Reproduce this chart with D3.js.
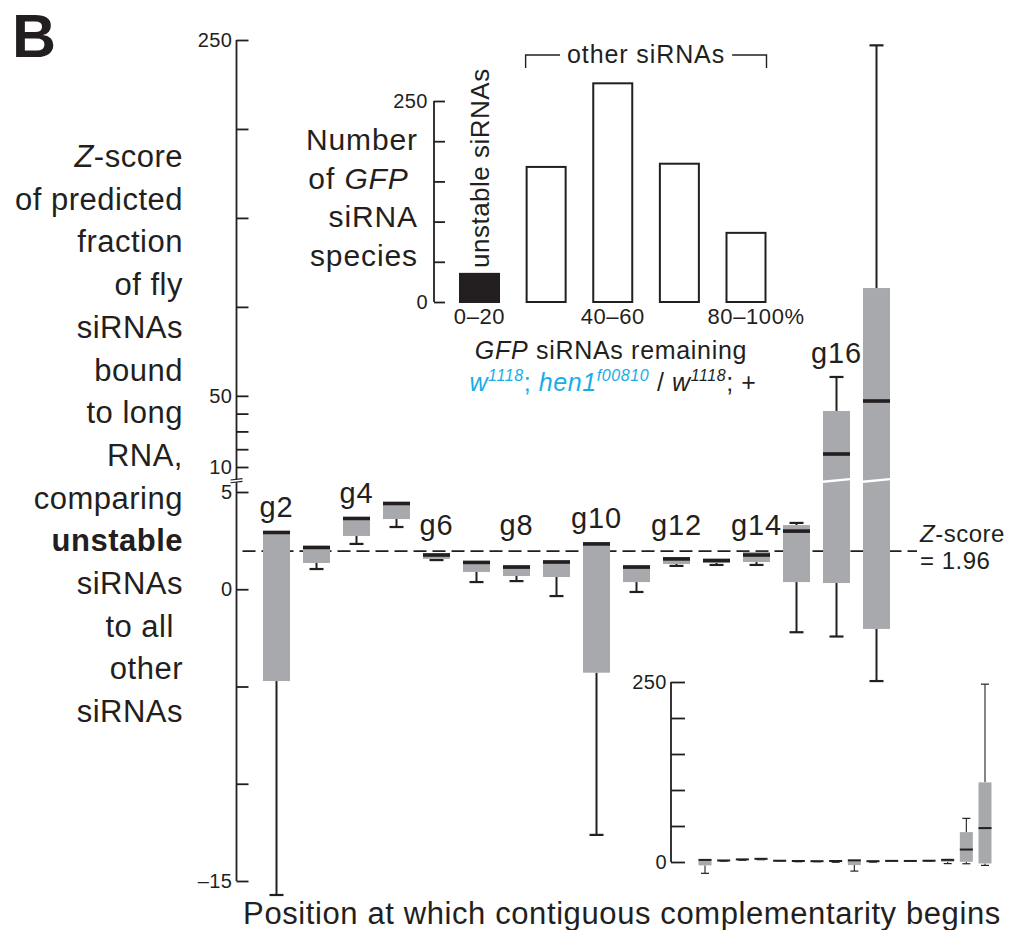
<!DOCTYPE html>
<html>
<head>
<meta charset="utf-8">
<script src="https://cdn.jsdelivr.net/npm/d3@7"></script>
<style>
  body { margin: 0; background: #fff; }
  svg { display: block; font-family: "Liberation Sans", Arial, Helvetica, sans-serif; }
  text { fill: #231f20; }
</style>
</head>
<body>
<svg id="fig" width="1011" height="930"></svg>
<script>
// Guide-strand position at which contiguous complementarity begins
const positions = ["g2","g3","g4","g5","g6","g7","g8","g9","g10","g11","g12","g13","g14","g15","g16","g17"];
const labelledPositions = ["g2","g4","g6","g8","g10","g12","g14","g16"];

// Z-score distributions (box-and-whisker statistics) per position
const upperWhisker  = [2.99, 2.22, 3.71, 4.49, 1.86, 1.45, 1.25, 1.50, 2.43, 1.25, 1.66, 1.56, 1.92, 3.41, 60.6, 247];
const upperQuartile = [2.99, 2.22, 3.71, 4.49, 1.86, 1.45, 1.25, 1.50, 2.43, 1.25, 1.66, 1.56, 1.92, 3.30, 41.5, 110.6];
const medians       = [2.92, 2.15, 3.64, 4.41, 1.76, 1.38, 1.14, 1.40, 2.33, 1.14, 1.56, 1.48, 1.76, 2.99, 17.3, 47.1];
const lowerQuartile = [-4.72, 1.35, 2.74, 3.61, 1.56, 0.89, 0.68, 0.63, -4.29, 0.37, 1.30, 1.35, 1.40, 0.37, 0.32, -2.04];
const lowerWhisker  = [-15.72, 1.04, 2.33, 3.20, 1.50, 0.37, 0.42, -0.35, -12.63, -0.14, 1.20, 1.25, 1.25, -2.21, -2.43, -4.72];
const zThreshold = 1.96;

// Broken y axis: lower segment and upper segment
const lowerTicks = [-15, -10, -5, 0, 5];
const lowerTickLabels = ["–15", "", "", "0", "5"];
const upperTicks = [10, 20, 30, 40, 50, 100, 150, 200, 250];
const upperTickLabels = ["10", "", "", "", "50", "", "", "", "250"];

// Full-range view (bottom right)
const fullTicks = [0, 50, 100, 150, 200, 250];
const fullTickLabels = ["0", "", "", "", "", "250"];

// Histogram of GFP siRNA species by fraction remaining
const bins = ["0–20", "20–40", "40–60", "60–80", "80–100"];
const binLabels = ["0–20", "", "40–60", "", "80–100"];
const speciesCounts = [35, 168, 272, 172, 86];
const countTicks = [0, 50, 100, 150, 200, 250];
const countTickLabels = ["0", "", "", "", "", "250"];

const yTitleLines = ["Z-score", "of predicted", "fraction", "of fly", "siRNAs", "bound", "to long",
                     "RNA,", "comparing", "unstable", "siRNAs", "to all ", "other", "siRNAs"];
const histTitleLines = ["Number", "of GFP ", "siRNA", "species"];

const ink = "#231f20", grey = "#a7a9ac", cyan = "#17aee8";
const svg = d3.select("#fig");

// ---------- panel letter ----------
svg.append("text").attr("x", 12).attr("y", 57)
  .attr("font-size", 61).attr("font-weight", "bold").text("B");

// ---------- main box plot ----------
const axisX = 236.5;
const yLow = d3.scaleLinear().domain([-15, 5]).range([881, 492]);
const yHigh = d3.scaleLinear().domain([10, 250]).range([467, 40]);
const breakY = 480;
const yMain = v => (v > 7.5 ? yHigh(v) : yLow(v));
const x = d3.scalePoint().domain(positions).range([276.5, 876.5]);
const boxW = 27;

function styleAxis(g, size) {
  g.select(".domain").remove();
  g.selectAll(".tick line").attr("stroke", ink).attr("stroke-width", 1.8);
  g.selectAll(".tick text").attr("font-size", size).attr("letter-spacing", 0.5)
    .attr("fill", ink).attr("font-family", null);
}

const axisLowG = svg.append("g").attr("transform", `translate(${axisX},0)`)
  .call(d3.axisLeft(yLow).tickValues(lowerTicks).tickSize(-12).tickPadding(4)
    .tickFormat((d, i) => lowerTickLabels[i]));
styleAxis(axisLowG, 20);
const axisHighG = svg.append("g").attr("transform", `translate(${axisX},0)`)
  .call(d3.axisLeft(yHigh).tickValues(upperTicks).tickSize(-12).tickPadding(4)
    .tickFormat((d, i) => upperTickLabels[i]));
styleAxis(axisHighG, 20);

svg.append("line").attr("x1", axisX).attr("x2", axisX)
  .attr("y1", yHigh(250)).attr("y2", yLow(-15))
  .attr("stroke", ink).attr("stroke-width", 1.8);

// axis break marks
svg.append("path")
  .attr("d", `M${axisX - 6},${breakY + 0.2} L${axisX + 6},${breakY - 1.2} L${axisX + 6},${breakY + 1.6} L${axisX - 6},${breakY + 3} Z`)
  .attr("fill", "#fff");
[0, 2.8].forEach(o => {
  svg.append("line")
    .attr("x1", axisX - 6).attr("y1", breakY + o)
    .attr("x2", axisX + 6).attr("y2", breakY - 1.4 + o)
    .attr("stroke", ink).attr("stroke-width", 1.1);
});

// significance threshold
svg.append("line")
  .attr("x1", axisX + 6).attr("x2", 917)
  .attr("y1", yLow(zThreshold)).attr("y2", yLow(zThreshold))
  .attr("stroke", ink).attr("stroke-width", 1.8).attr("stroke-dasharray", "13,6");

const zLab = svg.append("text").attr("x", 920).attr("y", yLow(zThreshold) - 9)
  .attr("font-size", 24).attr("letter-spacing", 0.5);
zLab.append("tspan").attr("font-style", "italic").text("Z");
zLab.append("tspan").text("-score");
svg.append("text").attr("x", 920).attr("y", yLow(zThreshold) + 18)
  .attr("font-size", 24).attr("letter-spacing", 0.5).text("= " + zThreshold);

const boxes = svg.append("g").selectAll("g").data(positions).join("g");
boxes.each(function (p, i) {
  const g = d3.select(this), cx = x(p);
  if (lowerWhisker[i] < lowerQuartile[i]) {
    g.append("line").attr("x1", cx).attr("x2", cx)
      .attr("y1", yMain(lowerQuartile[i])).attr("y2", yMain(lowerWhisker[i]))
      .attr("stroke", ink).attr("stroke-width", 2);
    g.append("line").attr("x1", cx - 7).attr("x2", cx + 7)
      .attr("y1", yMain(lowerWhisker[i])).attr("y2", yMain(lowerWhisker[i]))
      .attr("stroke", ink).attr("stroke-width", 2.2);
  }
  if (upperWhisker[i] > upperQuartile[i]) {
    g.append("line").attr("x1", cx).attr("x2", cx)
      .attr("y1", yMain(upperQuartile[i])).attr("y2", yMain(upperWhisker[i]))
      .attr("stroke", ink).attr("stroke-width", 2);
    g.append("line").attr("x1", cx - 7).attr("x2", cx + 7)
      .attr("y1", yMain(upperWhisker[i])).attr("y2", yMain(upperWhisker[i]))
      .attr("stroke", ink).attr("stroke-width", 2.2);
  }
  g.append("rect").attr("x", cx - boxW / 2).attr("width", boxW)
    .attr("y", yMain(upperQuartile[i]))
    .attr("height", yMain(lowerQuartile[i]) - yMain(upperQuartile[i]))
    .attr("fill", grey);
  g.append("rect").attr("x", cx - boxW / 2).attr("width", boxW)
    .attr("y", yMain(medians[i]) - 1.8).attr("height", 3.6).attr("fill", ink);
  if (lowerQuartile[i] < 5 && upperQuartile[i] > 10) {
    g.append("line")
      .attr("x1", cx - boxW / 2).attr("y1", breakY + 1.8)
      .attr("x2", cx + boxW / 2).attr("y2", breakY - 0.9)
      .attr("stroke", "#fff").attr("stroke-width", 2.4);
  }
});

// position labels
svg.append("g").selectAll("text").data(labelledPositions).join("text")
  .attr("x", d => x(d))
  .attr("y", d => Math.min(yMain(upperWhisker[positions.indexOf(d)]) - 14, 535))
  .attr("text-anchor", "middle").attr("font-size", 29).attr("letter-spacing", 0.8)
  .text(d => d);

// y-axis title
const yt = svg.append("g").selectAll("text").data(yTitleLines).join("text")
  .attr("x", 183).attr("y", (d, i) => 167 + i * 42.7)
  .attr("text-anchor", "end").attr("font-size", 31).attr("letter-spacing", 0.5)
  .style("white-space", "pre")
  .attr("font-weight", d => (d === "unstable" ? "bold" : null));
yt.each(function (d) {
  const t = d3.select(this);
  if (d.startsWith("Z-")) {
    t.append("tspan").attr("font-style", "italic").text("Z");
    t.append("tspan").text(d.slice(1));
  } else {
    t.text(d);
  }
});

// x-axis title
svg.append("text").attr("x", 622).attr("y", 924).attr("text-anchor", "middle")
  .attr("font-size", 31).attr("letter-spacing", 0.6)
  .text("Position at which contiguous complementarity begins");

// ---------- histogram inset ----------
const hx = d3.scalePoint().domain(bins).range([479.5, 746]);
const hy = d3.scaleLinear().domain([0, 250]).range([302, 101]);
const barW = 39;
const histAxisX = 434;

const hAxis = svg.append("g").attr("transform", `translate(${histAxisX},0)`)
  .call(d3.axisLeft(hy).tickValues(countTicks).tickSize(-11).tickPadding(6)
    .tickFormat((d, i) => countTickLabels[i]));
styleAxis(hAxis, 20);
svg.append("line").attr("x1", histAxisX).attr("x2", histAxisX)
  .attr("y1", hy(250)).attr("y2", hy(0)).attr("stroke", ink).attr("stroke-width", 1.8);

svg.append("g").selectAll("rect").data(speciesCounts).join("rect")
  .attr("x", (d, i) => hx(bins[i]) - barW / 2).attr("width", barW)
  .attr("y", d => hy(d)).attr("height", d => hy(0) - hy(d))
  .attr("fill", (d, i) => (i === 0 ? ink : "#fff"))
  .attr("stroke", ink).attr("stroke-width", 2);

const binText = svg.append("g").selectAll("text").data(binLabels).join("text")
  .attr("x", (d, i) => hx(bins[i])).attr("y", 324)
  .attr("text-anchor", "middle").attr("font-size", 22).attr("letter-spacing", 0.6)
  .text(d => d);
// percent sign trails the last bin label
const lastBin = binText.filter((d, i) => i === bins.length - 1);
const lastW = lastBin.node().getComputedTextLength();
svg.append("text").attr("x", hx(bins[bins.length - 1]) + lastW / 2).attr("y", 324)
  .attr("font-size", 22).attr("letter-spacing", 0.6).text("%");

// rotated label on the unstable bin
svg.append("text").attr("transform", `translate(${hx(bins[0]) + 9},268) rotate(-90)`)
  .attr("font-size", 26).attr("letter-spacing", 0.5).text("unstable siRNAs");

// bracket over the remaining bins
const otherCx = (hx(bins[1]) - barW / 2 + hx(bins[4]) + barW / 2) / 2;
const otherLab = svg.append("text").attr("x", otherCx).attr("y", 63)
  .attr("text-anchor", "middle").attr("font-size", 25).attr("letter-spacing", 0.9)
  .text("other siRNAs");
const otherW = otherLab.node().getComputedTextLength();
const bl = hx(bins[1]) - barW / 2 - 1, br = hx(bins[4]) + barW / 2 + 1;
svg.append("path")
  .attr("d", `M${bl},68V55H${otherCx - otherW / 2 - 7}M${otherCx + otherW / 2 + 7},55H${br}V68`)
  .attr("fill", "none").attr("stroke", ink).attr("stroke-width", 1.4);

// histogram y title
const ht = svg.append("g").selectAll("text").data(histTitleLines).join("text")
  .attr("x", 418).attr("y", (d, i) => 150 + i * 38.5)
  .attr("text-anchor", "end").attr("font-size", 30).attr("letter-spacing", 0.9)
  .style("white-space", "pre");
ht.each(function (d) {
  const t = d3.select(this);
  const m = d.indexOf("GFP");
  if (m >= 0) {
    t.append("tspan").text(d.slice(0, m));
    t.append("tspan").attr("font-style", "italic").text("GFP");
    t.append("tspan").text(d.slice(m + 3));
  } else {
    t.text(d);
  }
});

// histogram x title and genotype
const hxt = svg.append("text").attr("x", 611).attr("y", 359).attr("text-anchor", "middle")
  .attr("font-size", 25).attr("letter-spacing", 0.7);
hxt.append("tspan").attr("font-style", "italic").text("GFP");
hxt.append("tspan").text(" siRNAs remaining");

const genotype = [
  { t: "w", it: true, c: cyan }, { t: "1118", it: true, sup: true, c: cyan },
  { t: "; ", c: cyan }, { t: "hen1", it: true, c: cyan },
  { t: "f00810", it: true, sup: true, c: cyan },
  { t: " / ", c: ink }, { t: "w", it: true, c: ink },
  { t: "1118", it: true, sup: true, c: ink }, { t: "; +", c: ink }
];
const gt = svg.append("text").attr("x", 613).attr("y", 391).attr("text-anchor", "middle")
  .attr("font-size", 25).attr("letter-spacing", 0.6).style("white-space", "pre");
let raised = false;
genotype.forEach(s => {
  const sp = gt.append("tspan").text(s.t).style("fill", s.c)
    .attr("font-style", s.it ? "italic" : null);
  if (s.sup && !raised) { sp.attr("dy", -10).attr("font-size", 16); raised = true; }
  else if (s.sup) { sp.attr("font-size", 16); }
  else if (raised) { sp.attr("dy", 10); raised = false; }
});

// ---------- full-range inset ----------
const fx = d3.scalePoint().domain(positions).range([705, 985]);
const fy = d3.scaleLinear().domain([0, 250]).range([862, 682]);
const fBoxW = 13;
const fullAxisX = 671;
const fAxis = svg.append("g").attr("transform", `translate(${fullAxisX},0)`)
  .call(d3.axisLeft(fy).tickValues(fullTicks).tickSize(-14).tickPadding(4)
    .tickFormat((d, i) => fullTickLabels[i]));
styleAxis(fAxis, 20);
svg.append("line").attr("x1", fullAxisX).attr("x2", fullAxisX)
  .attr("y1", fy(250)).attr("y2", fy(0)).attr("stroke", ink).attr("stroke-width", 1.8);

const fBoxes = svg.append("g").selectAll("g").data(positions).join("g");
fBoxes.each(function (p, i) {
  const g = d3.select(this), cx = fx(p);
  if (lowerWhisker[i] < lowerQuartile[i]) {
    g.append("line").attr("x1", cx).attr("x2", cx)
      .attr("y1", fy(lowerQuartile[i])).attr("y2", fy(lowerWhisker[i]))
      .attr("stroke", ink).attr("stroke-width", 1.1);
    g.append("line").attr("x1", cx - 4).attr("x2", cx + 4)
      .attr("y1", fy(lowerWhisker[i])).attr("y2", fy(lowerWhisker[i]))
      .attr("stroke", ink).attr("stroke-width", 1.2);
  }
  if (upperWhisker[i] > upperQuartile[i]) {
    g.append("line").attr("x1", cx).attr("x2", cx)
      .attr("y1", fy(upperQuartile[i])).attr("y2", fy(upperWhisker[i]))
      .attr("stroke", ink).attr("stroke-width", 1.1);
    g.append("line").attr("x1", cx - 4).attr("x2", cx + 4)
      .attr("y1", fy(upperWhisker[i])).attr("y2", fy(upperWhisker[i]))
      .attr("stroke", ink).attr("stroke-width", 1.2);
  }
  g.append("rect").attr("x", cx - fBoxW / 2).attr("width", fBoxW)
    .attr("y", fy(upperQuartile[i]))
    .attr("height", Math.max(fy(lowerQuartile[i]) - fy(upperQuartile[i]), 0.8))
    .attr("fill", grey);
  g.append("rect").attr("x", cx - fBoxW / 2).attr("width", fBoxW)
    .attr("y", fy(medians[i]) - 1).attr("height", 2).attr("fill", ink);
});
</script>
</body>
</html>
